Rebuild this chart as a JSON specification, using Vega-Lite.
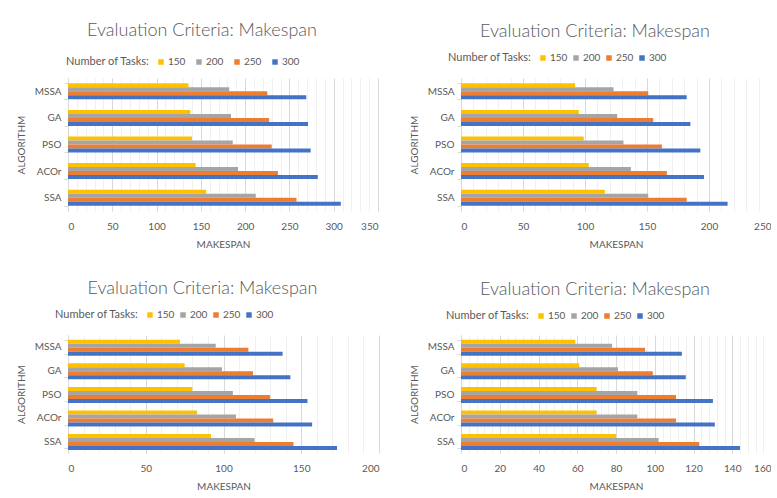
{
  "$schema": "https://vega.github.io/schema/vega-lite/v6.json",
  "background": "white",
  "padding": {"left": 16, "top": 22, "right": 0, "bottom": 0},
  "datasets": {
    "p1": [
      {"algorithm": "MSSA", "tasks": "150", "makespan": 136}, {"algorithm": "MSSA", "tasks": "200", "makespan": 182}, {"algorithm": "MSSA", "tasks": "250", "makespan": 225}, {"algorithm": "MSSA", "tasks": "300", "makespan": 269},
      {"algorithm": "GA", "tasks": "150", "makespan": 138}, {"algorithm": "GA", "tasks": "200", "makespan": 184}, {"algorithm": "GA", "tasks": "250", "makespan": 227}, {"algorithm": "GA", "tasks": "300", "makespan": 271},
      {"algorithm": "PSO", "tasks": "150", "makespan": 140}, {"algorithm": "PSO", "tasks": "200", "makespan": 186}, {"algorithm": "PSO", "tasks": "250", "makespan": 230}, {"algorithm": "PSO", "tasks": "300", "makespan": 274},
      {"algorithm": "ACOr", "tasks": "150", "makespan": 144}, {"algorithm": "ACOr", "tasks": "200", "makespan": 192}, {"algorithm": "ACOr", "tasks": "250", "makespan": 237}, {"algorithm": "ACOr", "tasks": "300", "makespan": 282},
      {"algorithm": "SSA", "tasks": "150", "makespan": 156}, {"algorithm": "SSA", "tasks": "200", "makespan": 212}, {"algorithm": "SSA", "tasks": "250", "makespan": 258}, {"algorithm": "SSA", "tasks": "300", "makespan": 308}
    ],
    "p2": [
      {"algorithm": "MSSA", "tasks": "150", "makespan": 92}, {"algorithm": "MSSA", "tasks": "200", "makespan": 123}, {"algorithm": "MSSA", "tasks": "250", "makespan": 151}, {"algorithm": "MSSA", "tasks": "300", "makespan": 182},
      {"algorithm": "GA", "tasks": "150", "makespan": 95}, {"algorithm": "GA", "tasks": "200", "makespan": 126}, {"algorithm": "GA", "tasks": "250", "makespan": 155}, {"algorithm": "GA", "tasks": "300", "makespan": 185},
      {"algorithm": "PSO", "tasks": "150", "makespan": 99}, {"algorithm": "PSO", "tasks": "200", "makespan": 131}, {"algorithm": "PSO", "tasks": "250", "makespan": 162}, {"algorithm": "PSO", "tasks": "300", "makespan": 193},
      {"algorithm": "ACOr", "tasks": "150", "makespan": 103}, {"algorithm": "ACOr", "tasks": "200", "makespan": 137}, {"algorithm": "ACOr", "tasks": "250", "makespan": 166}, {"algorithm": "ACOr", "tasks": "300", "makespan": 196},
      {"algorithm": "SSA", "tasks": "150", "makespan": 116}, {"algorithm": "SSA", "tasks": "200", "makespan": 151}, {"algorithm": "SSA", "tasks": "250", "makespan": 182}, {"algorithm": "SSA", "tasks": "300", "makespan": 215}
    ],
    "p3": [
      {"algorithm": "MSSA", "tasks": "150", "makespan": 72}, {"algorithm": "MSSA", "tasks": "200", "makespan": 95}, {"algorithm": "MSSA", "tasks": "250", "makespan": 116}, {"algorithm": "MSSA", "tasks": "300", "makespan": 138},
      {"algorithm": "GA", "tasks": "150", "makespan": 75}, {"algorithm": "GA", "tasks": "200", "makespan": 99}, {"algorithm": "GA", "tasks": "250", "makespan": 119}, {"algorithm": "GA", "tasks": "300", "makespan": 143},
      {"algorithm": "PSO", "tasks": "150", "makespan": 80}, {"algorithm": "PSO", "tasks": "200", "makespan": 106}, {"algorithm": "PSO", "tasks": "250", "makespan": 130}, {"algorithm": "PSO", "tasks": "300", "makespan": 154},
      {"algorithm": "ACOr", "tasks": "150", "makespan": 83}, {"algorithm": "ACOr", "tasks": "200", "makespan": 108}, {"algorithm": "ACOr", "tasks": "250", "makespan": 132}, {"algorithm": "ACOr", "tasks": "300", "makespan": 157},
      {"algorithm": "SSA", "tasks": "150", "makespan": 92}, {"algorithm": "SSA", "tasks": "200", "makespan": 120}, {"algorithm": "SSA", "tasks": "250", "makespan": 145}, {"algorithm": "SSA", "tasks": "300", "makespan": 173}
    ],
    "p4": [
      {"algorithm": "MSSA", "tasks": "150", "makespan": 59}, {"algorithm": "MSSA", "tasks": "200", "makespan": 78}, {"algorithm": "MSSA", "tasks": "250", "makespan": 95}, {"algorithm": "MSSA", "tasks": "300", "makespan": 114},
      {"algorithm": "GA", "tasks": "150", "makespan": 61}, {"algorithm": "GA", "tasks": "200", "makespan": 81}, {"algorithm": "GA", "tasks": "250", "makespan": 99}, {"algorithm": "GA", "tasks": "300", "makespan": 116},
      {"algorithm": "PSO", "tasks": "150", "makespan": 70}, {"algorithm": "PSO", "tasks": "200", "makespan": 91}, {"algorithm": "PSO", "tasks": "250", "makespan": 111}, {"algorithm": "PSO", "tasks": "300", "makespan": 130},
      {"algorithm": "ACOr", "tasks": "150", "makespan": 70}, {"algorithm": "ACOr", "tasks": "200", "makespan": 91}, {"algorithm": "ACOr", "tasks": "250", "makespan": 111}, {"algorithm": "ACOr", "tasks": "300", "makespan": 131},
      {"algorithm": "SSA", "tasks": "150", "makespan": 80}, {"algorithm": "SSA", "tasks": "200", "makespan": 102}, {"algorithm": "SSA", "tasks": "250", "makespan": 123}, {"algorithm": "SSA", "tasks": "300", "makespan": 144}
    ]
  },
  "columns": 2,
  "bounds": "flush",
  "spacing": {"row": 124, "column": 82},
  "resolve": {"legend": {"color": "independent"}, "scale": {"color": "shared"}},
  "config": {
    "font": "Lato",
    "view": {"stroke": null},
    "title": {"fontSize": 18, "fontWeight": 300, "color": "#595959", "anchor": "middle", "dx": -21, "offset": 12},
    "axis": {"labelColor": "#595959", "titleColor": "#595959", "labelFontSize": 10, "titleFontSize": 10, "titleFontWeight": "normal"},
    "axisX": {"domain": false, "ticks": false, "labelPadding": 10, "titlePadding": 8, "gridWidth": 1},
    "axisY": {"grid": false, "domainColor": "#d9d9d9", "tickColor": "#d9d9d9", "tickSize": 4, "tickBand": "extent", "labelPadding": 3, "titlePadding": 8},
    "legend": {"orient": "none", "direction": "horizontal", "titleOrient": "left", "symbolType": "square", "symbolSize": 30, "symbolStrokeWidth": 0, "labelFontSize": 10, "titleFontSize": 11, "titleFontWeight": "normal", "titleColor": "#595959", "labelColor": "#595959", "labelOffset": 2, "titlePadding": 6}
  },
  "concat": [
    {
      "width": 310, "height": 133,
      "data": {"name": "p1"},
      "title": {"text": "Evaluation Criteria: Makespan", "dy": -5},
      "mark": {"type": "bar"},
      "encoding": {
        "y": {"field": "algorithm", "type": "nominal", "sort": ["MSSA", "GA", "PSO", "ACOr", "SSA"], "title": "ALGORITHM", "scale": {"paddingInner": 0.4, "paddingOuter": 0.2}},
        "yOffset": {"field": "tasks", "type": "nominal", "sort": ["150", "200", "250", "300"]},
        "x": {"field": "makespan", "type": "quantitative", "title": "MAKESPAN", "scale": {"domain": [0, 350], "nice": false},
          "axis": {"values": [0,10,20,30,40,50,60,70,80,90,100,110,120,130,140,150,160,170,180,190,200,210,220,230,240,250,260,270,280,290,300,310,320,330,340,350],
            "labelExpr": "datum.value % 50 === 0 ? datum.label : ''",
            "gridColor": {"condition": {"test": "datum.value % 50 === 0", "value": "#d9d9d9"}, "value": "#f0f0f0"}}},
        "color": {"field": "tasks", "type": "nominal", "sort": ["150", "200", "250", "300"], "title": "Number of Tasks:",
          "scale": {"domain": ["150", "200", "250", "300"], "range": ["#FFC000", "#A5A5A5", "#ED7D31", "#4472C4"]},
          "legend": {"legendX": -2, "legendY": -21, "columnPadding": 8}}
      }
    },
    {
      "width": 310, "height": 133,
      "data": {"name": "p2"},
      "title": "Evaluation Criteria: Makespan",
      "mark": {"type": "bar"},
      "encoding": {
        "y": {"field": "algorithm", "type": "nominal", "sort": ["MSSA", "GA", "PSO", "ACOr", "SSA"], "title": "ALGORITHM", "scale": {"paddingInner": 0.4, "paddingOuter": 0.2}},
        "yOffset": {"field": "tasks", "type": "nominal", "sort": ["150", "200", "250", "300"]},
        "x": {"field": "makespan", "type": "quantitative", "title": "MAKESPAN", "scale": {"domain": [0, 250], "nice": false},
          "axis": {"values": [0,10,20,30,40,50,60,70,80,90,100,110,120,130,140,150,160,170,180,190,200,210,220,230,240,250],
            "labelExpr": "datum.value % 50 === 0 ? datum.label : ''",
            "gridColor": {"condition": {"test": "datum.value % 50 === 0", "value": "#d9d9d9"}, "value": "#f0f0f0"}}},
        "color": {"field": "tasks", "type": "nominal", "sort": ["150", "200", "250", "300"], "title": "Number of Tasks:",
          "scale": {"domain": ["150", "200", "250", "300"], "range": ["#FFC000", "#A5A5A5", "#ED7D31", "#4472C4"]},
          "legend": {"legendX": -13, "legendY": -25, "columnPadding": 3}}
      }
    },
    {
      "width": 311, "height": 118,
      "data": {"name": "p3"},
      "title": "Evaluation Criteria: Makespan",
      "mark": {"type": "bar"},
      "encoding": {
        "y": {"field": "algorithm", "type": "nominal", "sort": ["MSSA", "GA", "PSO", "ACOr", "SSA"], "title": "ALGORITHM", "scale": {"paddingInner": 0.4, "paddingOuter": 0.2}},
        "yOffset": {"field": "tasks", "type": "nominal", "sort": ["150", "200", "250", "300"]},
        "x": {"field": "makespan", "type": "quantitative", "title": "MAKESPAN", "scale": {"domain": [0, 200], "nice": false},
          "axis": {"values": [0,10,20,30,40,50,60,70,80,90,100,110,120,130,140,150,160,170,180,190,200],
            "labelExpr": "datum.value % 50 === 0 ? datum.label : ''",
            "gridColor": {"condition": {"test": "datum.value % 50 === 0", "value": "#d9d9d9"}, "value": "#f0f0f0"}}},
        "color": {"field": "tasks", "type": "nominal", "sort": ["150", "200", "250", "300"], "title": "Number of Tasks:",
          "scale": {"domain": ["150", "200", "250", "300"], "range": ["#FFC000", "#A5A5A5", "#ED7D31", "#4472C4"]},
          "legend": {"legendX": -13, "legendY": -25, "columnPadding": 3}}
      }
    },
    {
      "width": 310, "height": 118,
      "data": {"name": "p4"},
      "title": "Evaluation Criteria: Makespan",
      "mark": {"type": "bar"},
      "encoding": {
        "y": {"field": "algorithm", "type": "nominal", "sort": ["MSSA", "GA", "PSO", "ACOr", "SSA"], "title": "ALGORITHM", "scale": {"paddingInner": 0.4, "paddingOuter": 0.2}},
        "yOffset": {"field": "tasks", "type": "nominal", "sort": ["150", "200", "250", "300"]},
        "x": {"field": "makespan", "type": "quantitative", "title": "MAKESPAN", "scale": {"domain": [0, 160], "nice": false},
          "axis": {"values": [0,4,8,12,16,20,24,28,32,36,40,44,48,52,56,60,64,68,72,76,80,84,88,92,96,100,104,108,112,116,120,124,128,132,136,140,144,148,152,156,160],
            "labelExpr": "datum.value % 20 === 0 ? datum.label : ''",
            "gridColor": {"condition": {"test": "datum.value % 20 === 0", "value": "#d9d9d9"}, "value": "#f0f0f0"}}},
        "color": {"field": "tasks", "type": "nominal", "sort": ["150", "200", "250", "300"], "title": "Number of Tasks:",
          "scale": {"domain": ["150", "200", "250", "300"], "range": ["#FFC000", "#A5A5A5", "#ED7D31", "#4472C4"]},
          "legend": {"legendX": -15, "legendY": -24, "columnPadding": 3}}
      }
    }
  ]
}
